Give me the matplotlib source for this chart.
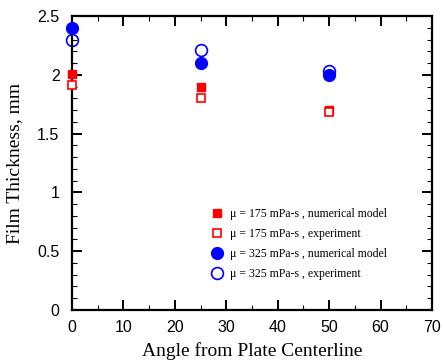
import matplotlib.pyplot as plt
from matplotlib.ticker import MultipleLocator

angles = [0, 25, 50]
num_175 = [2.01, 1.90, 1.70]
exp_175 = [1.91, 1.80, 1.68]
num_325 = [2.40, 2.10, 2.00]
exp_325 = [2.30, 2.21, 2.03]

labels = ["\u03bc = 175 mPa-s , numerical model",
          "\u03bc = 175 mPa-s , experiment",
          "\u03bc = 325 mPa-s , numerical model",
          "\u03bc = 325 mPa-s , experiment"]

fig = plt.figure(figsize=(4.43, 3.6), dpi=100)
ax = fig.add_axes([72 / 443, 50 / 360, 360 / 443, 294 / 360])

ax.plot(angles, num_175, "s", color="red", markersize=6, label=labels[0], clip_on=False, zorder=3)
ax.plot(angles, exp_175, "s", mfc="white", mec="red", mew=1.2, markersize=6, label=labels[1], clip_on=False, zorder=3)
ax.plot(angles, num_325, "o", color="blue", markersize=8.5, label=labels[2], clip_on=False, zorder=3)
ax.plot(angles, exp_325, "o", mfc="none", mec="blue", mew=1.2, markersize=8.5, label=labels[3], clip_on=False, zorder=2)

ax.set_xlim(0, 70)
ax.set_ylim(0, 2.5)
ax.xaxis.set_major_locator(MultipleLocator(10))
ax.xaxis.set_minor_locator(MultipleLocator(5))
ax.yaxis.set_minor_locator(MultipleLocator(0.1))
ax.set_yticks([0, 0.5, 1, 1.5, 2, 2.5])
ax.set_yticklabels(["0", "0.5", "1", "1.5", "2", "2.5"])
ax.tick_params(which="both", direction="in", top=True, right=True)
ax.tick_params(which="major", length=7, width=1.4, labelsize=11.5)
ax.tick_params(axis="y", which="major", pad=9)
ax.tick_params(axis="x", which="major", pad=7)
ax.tick_params(which="minor", length=3.5, width=0.8)
for lab in ax.get_xticklabels() + ax.get_yticklabels():
    lab.set_family("Liberation Sans")
for s in ax.spines.values():
    s.set_linewidth(1.6)

ax.set_xlabel("Angle from Plate Centerline", family="Liberation Serif", fontsize=14, labelpad=5)
ax.set_ylabel("Film Thickness, mm", family="Liberation Serif", fontsize=14, labelpad=10)

ax.legend(loc="upper left", bbox_to_anchor=(0.369, 0.368), frameon=False, borderpad=0,
          prop={"family": "Liberation Serif", "size": 8.5}, handletextpad=0.6,
          labelspacing=0.68, handlelength=1.0)

fig.savefig("out.png", dpi=100)
